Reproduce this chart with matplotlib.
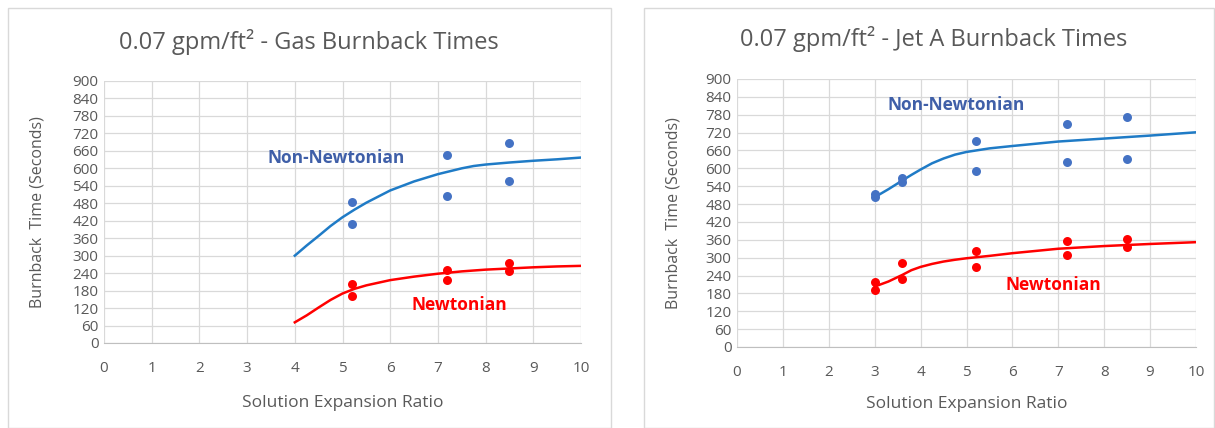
import numpy as np
import matplotlib
matplotlib.use("Agg")
import matplotlib.pyplot as plt
from matplotlib.patches import Rectangle

plt.rcParams['font.family'] = ['Open Sans', 'DejaVu Sans']

# --- Gas (left) ---
gas_nn_x = [5.2, 5.2, 7.2, 7.2, 8.5, 8.5]
gas_nn_y = [484, 409, 647, 505, 687, 556]
gas_n_x = [5.2, 5.2, 7.2, 7.2, 8.5, 8.5]
gas_n_y = [203, 161, 251, 216, 275, 246]
gas_nn_curve_x = [4, 4.25, 4.5, 4.75, 5, 5.25, 5.5, 6, 6.5, 7, 7.25, 7.5, 7.75, 8, 8.5, 9, 9.5, 10]
gas_nn_curve_y = [300, 335, 368, 402, 432, 458, 482, 524, 555, 580, 590, 600, 608, 613, 620, 626, 631, 637]
gas_n_curve_x = [4, 4.25, 4.5, 4.75, 5, 5.25, 5.5, 6, 6.5, 7, 7.5, 8, 8.5, 9, 9.5, 10]
gas_n_curve_y = [71, 95, 122, 148, 170, 186, 198, 216, 228, 238, 246, 252, 256, 260, 263, 265]

# --- Jet A (right) ---
jet_nn_x = [3, 3, 3.6, 3.6, 5.2, 5.2, 7.2, 7.2, 8.5, 8.5]
jet_nn_y = [513, 503, 567, 553, 693, 591, 750, 621, 772, 631]
jet_n_x = [3, 3, 3.6, 3.6, 5.2, 5.2, 7.2, 7.2, 8.5, 8.5]
jet_n_y = [217, 191, 281, 228, 322, 270, 357, 310, 363, 337]
jet_nn_curve_x = [3, 3.3, 3.6, 3.8, 4, 4.25, 4.5, 4.75, 5, 5.5, 6, 7, 8, 9, 10]
jet_nn_curve_y = [503, 530, 559, 578, 596, 617, 633, 646, 655, 667, 675, 690, 700, 710, 721]
jet_n_curve_x = [3, 3.3, 3.6, 3.8, 4, 4.25, 4.5, 4.75, 5, 5.5, 6, 7, 8, 9, 10]
jet_n_curve_y = [203, 220, 242, 258, 269, 279, 287, 293, 298, 306, 315, 330, 339, 346, 352]

titles = ["0.07 gpm/ft² - Gas Burnback Times", "0.07 gpm/ft² - Jet A Burnback Times"]

pt_blue = "#4472C4"
ln_blue = "#1F7BC6"
red = "#FF0000"
lbl_blue = "#3F5FA8"
gray_txt = "#595959"

fig = plt.figure(figsize=(12.15, 4.28), dpi=100)

# panel frames
for x0, x1 in [(8, 611), (644, 1214)]:
    fig.patches.append(Rectangle((x0 / 1215, 0), (x1 - x0) / 1215, 1 - 8 / 428,
                                 transform=fig.transFigure, fill=False,
                                 edgecolor="#D9D9D9", linewidth=1))

ax1 = fig.add_axes([104 / 1215, 1 - 343 / 428, 477 / 1215, 262 / 428])
ax2 = fig.add_axes([737 / 1215, 1 - 347 / 428, 459 / 1215, 268 / 428])

data = [
    (ax1, gas_nn_x, gas_nn_y, gas_n_x, gas_n_y, gas_nn_curve_x, gas_nn_curve_y,
     gas_n_curve_x, gas_n_curve_y, (4.86, 636), (7.46, 130), -0.122, -0.198, (309, 42)),
    (ax2, jet_nn_x, jet_nn_y, jet_n_x, jet_n_y, jet_nn_curve_x, jet_nn_curve_y,
     jet_n_curve_x, jet_n_curve_y, (4.77, 813), (6.9, 208), -0.122, -0.183, (934, 39)),
]

for i, (ax, nx, ny, rx, ry, ncx, ncy, rcx, rcy, nn_pos, n_pos, ylx, xly, tpos) in enumerate(data):
    ax.plot(ncx, ncy, color=ln_blue, lw=1.8, zorder=3, solid_joinstyle="round")
    ax.plot(rcx, rcy, color=red, lw=1.8, zorder=3, solid_joinstyle="round")
    ax.scatter(nx, ny, s=42, color=pt_blue, zorder=4, linewidths=0)
    ax.scatter(rx, ry, s=42, color=red, zorder=4, linewidths=0)
    ax.set_xlim(0, 10)
    ax.set_ylim(0, 900)
    ax.set_xticks(range(0, 11))
    ax.set_yticks(range(0, 901, 60))
    ax.grid(True, color="#D9D9D9", linewidth=0.9)
    ax.set_axisbelow(True)
    for s in ["top", "right", "left"]:
        ax.spines[s].set_visible(False)
    ax.spines["bottom"].set_color("#BFBFBF")
    ax.tick_params(length=0, labelsize=11, labelcolor=gray_txt, pad=4)
    ax.tick_params(axis="x", pad=13)
    ax.set_xlabel("Solution Expansion Ratio", fontsize=12.5, color=gray_txt)
    ax.xaxis.set_label_coords(0.5, xly)
    ax.set_ylabel("Burnback  Time (Seconds)", fontsize=11.5, color=gray_txt)
    ax.yaxis.set_label_coords(ylx, 0.5)
    fig.text(tpos[0] / 1215, 1 - tpos[1] / 428, titles[i],
             fontsize=17, color=gray_txt, ha="center", va="center")
    ax.text(nn_pos[0], nn_pos[1], "Non-Newtonian", color=lbl_blue, fontsize=12.5,
            fontweight="bold", ha="center", va="center")
    ax.text(n_pos[0], n_pos[1], "Newtonian", color=red, fontsize=12.5,
            fontweight="bold", ha="center", va="center")

fig.savefig("out.png", dpi=100)
